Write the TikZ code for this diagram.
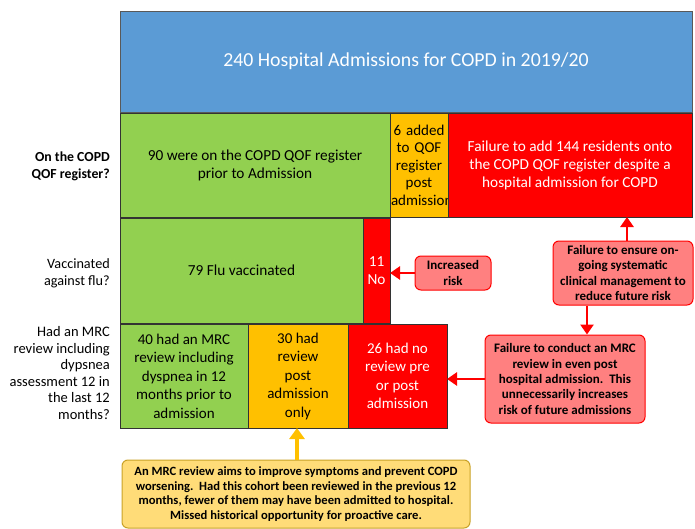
\documentclass[tikz,border=0pt]{standalone}
\usepackage{fontspec}
\setmainfont{Carlito}
\usetikzlibrary{arrows.meta}
\definecolor{admblue}{HTML}{5B9BD5}
\definecolor{okgreen}{HTML}{92D050}
\definecolor{midamber}{HTML}{FFC000}
\definecolor{badred}{HTML}{FF0000}
\definecolor{notepink}{HTML}{FF8080}
\definecolor{notegold}{HTML}{FFDC78}
\definecolor{goldline}{HTML}{C9A227}

\begin{document}
\begin{tikzpicture}[x=1pt,y=-1pt,line cap=round,
  cell/.style={draw=black!80,line width=0.8pt,anchor=north west,align=center,inner sep=1pt,outer sep=0pt,font=\fontsize{15.3}{18}\selectfont},
  rowlabel/.style={anchor=east,align=right,inner sep=0pt,font=\fontsize{14.5}{16.5}\selectfont},
  note/.style={draw=badred,line width=1pt,fill=notepink,rounded corners=6pt,align=center,inner sep=2pt,font=\bfseries\fontsize{13}{15.3}\selectfont},
  redarrow/.style={-{Triangle[width=13pt,length=10pt]},badred,line width=2.8pt,line cap=butt},
  goldarrow/.style={-{Triangle[width=15pt,length=11pt]},midamber,line width=3.5pt,line cap=butt}]
\useasboundingbox (0,0) rectangle (695,529);
% header
\node[cell,fill=admblue,draw=black!65,text=white,minimum width=572pt,minimum height=101pt,font=\fontsize{19.8}{22}\selectfont] (total) at (120,11) {240 Hospital Admissions for COPD in 2019/20};
% row 1: QOF register
\node[cell,fill=okgreen,minimum width=270pt,minimum height=104pt] (qofyes) at (120,113) {90 were on the COPD QOF register\\prior to Admission};
\node[cell,fill=midamber,minimum width=58pt,minimum height=104pt,text width=56pt,font=\fontsize{15}{17.5}\selectfont] (qofadd) at (390,113) {6 added\\to QOF\\register\\post\\admission};
\node[cell,fill=badred,text=white,minimum width=244pt,minimum height=104pt] (qofmiss) at (448,113) {Failure to add 144 residents onto\\the COPD QOF register despite a\\hospital admission for COPD};
% row 2: flu
\node[cell,fill=okgreen,minimum width=243pt,minimum height=105pt] (fluyes) at (120,218) {79 Flu vaccinated};
\node[cell,fill=badred,text=white,minimum width=27pt,minimum height=105pt] (fluno) at (363,218) {11\\No};
% row 3: MRC review
\node[cell,fill=okgreen,minimum width=128pt,minimum height=104pt,font=\fontsize{15}{18.5}\selectfont] (mrcpre) at (120,324) {40 had an MRC\\review including\\dyspnea in 12\\months prior to\\admission};
\node[cell,fill=midamber,minimum width=100pt,minimum height=104pt,font=\fontsize{15}{18.5}\selectfont] (mrcpost) at (248,324) {30 had\\review\\post\\admission\\only};
\node[cell,fill=badred,text=white,minimum width=99pt,minimum height=104pt,font=\fontsize{15}{18.5}\selectfont] (mrcnone) at (348,324) {26 had no\\review pre\\or post\\admission};
% row labels
\node[rowlabel,font=\bfseries\fontsize{13.8}{17}\selectfont] (lblqof) at (110,166) {On the COPD\\QOF register?};
\node[rowlabel,font=\fontsize{14.2}{17}\selectfont] (lblflu) at (110,273) {Vaccinated\\against flu?};
\node[rowlabel] (lblmrc) at (110,373) {Had an MRC\\review including\\dypsnea\\assessment 12 in\\the last 12\\months?};
% callouts
\node[note,minimum width=76pt,minimum height=34pt] (risk) at (453,273) {Increased\\risk};
\node[note,minimum width=140pt,minimum height=64pt] (ensure) at (623,273) {Failure to ensure on-\\going systematic\\clinical management to\\reduce future risk};
\node[note,minimum width=160pt,minimum height=88pt] (conduct) at (565,379) {Failure to conduct an MRC\\review in even post\\hospital admission.\ \ This\\unnecessarily increases\\risk of future admissions};
\node[note,draw=goldline,fill=notegold,minimum width=348pt,minimum height=68pt,inner sep=1pt,font=\bfseries\fontsize{12.6}{14.5}\selectfont] (mrcaim) at (296,494) {An MRC review aims to improve symptoms and\ prevent COPD\\worsening.\ \ Had this cohort been reviewed in the previous 12\\months, fewer of them may have been admitted to hospital.\\Missed historical opportunity for proactive care.};
% arrows
\draw[redarrow] (risk.west) -- (risk.west -| fluno.east);
\draw[redarrow] ([xshift=4pt]ensure.north) -- ([xshift=4pt]ensure.north |- qofmiss.south);
\draw[redarrow] ([xshift=-36pt]ensure.south) -- ([xshift=-36pt]ensure.south |- conduct.north);
\draw[redarrow] (conduct.west) -- (conduct.west -| mrcnone.east);
\draw[goldarrow] ([xshift=1pt]mrcaim.north) -- ([xshift=1pt]mrcaim.north |- mrcpost.south);
\end{tikzpicture}
\end{document}
